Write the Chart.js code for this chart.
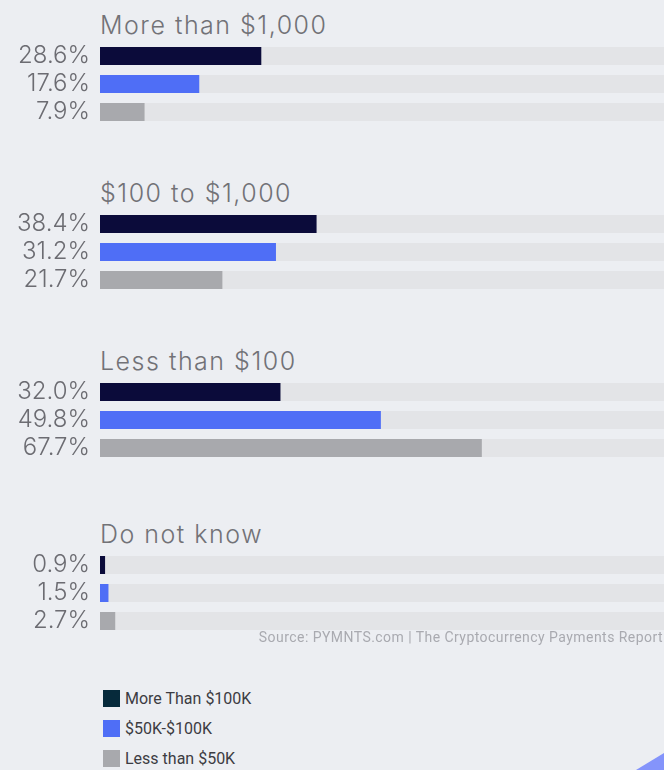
<!DOCTYPE html>
<html>
<head>
<meta charset="utf-8">
<script src="https://cdn.jsdelivr.net/npm/chart.js@4.4.1/dist/chart.umd.min.js"></script>
<style>
  html, body { margin: 0; padding: 0; }
  body {
    width: 664px; height: 770px; position: relative; overflow: hidden;
    background: #eceef2; font-family: Inter, "Noto Sans", sans-serif;
  }
  .group-title {
    position: absolute; left: 100px; height: 30px; line-height: 30px;
    font-size: 25px; font-weight: 300; letter-spacing: 1.5px; color: #727277; white-space: nowrap;
  }
  .chart-box { position: absolute; left: 0; width: 664px; height: 84px; }
  .chart-box canvas { display: block; }
  .source {
    position: absolute; right: 1px; top: 629px; font-family: Roboto, sans-serif;
    font-size: 14px; letter-spacing: 0.45px; color: #a9aab0; white-space: nowrap;
  }
  .legend { position: absolute; left: 103px; top: 690px; font-family: Roboto, sans-serif; }
  .legend-item { height: 30px; display: flex; align-items: flex-start; }
  .legend-item span.sw { width: 17px; height: 17px; margin-right: 5px; }
  .legend-item span.tx { font-size: 16px; line-height: 17px; color: #3c3c42; }
  .corner {
    position: absolute; right: 0; bottom: 0; width: 28px; height: 17px;
    background: #8494fb; clip-path: polygon(100% 0, 100% 100%, 0 100%);
  }
</style>
</head>
<body>
<div id="root"></div>
<div class="source">Source: PYMNTS.com | The Cryptocurrency Payments Report</div>
<div class="legend" id="legend"></div>
<div class="corner"></div>
<script>
// Spending categories (one block each) and income series
const categories = ["More than $1,000", "$100 to $1,000", "Less than $100", "Do not know"];
const seriesNames = ["More Than $100K", "$50K-$100K", "Less than $50K"];
const moreThan100K = [28.6, 38.4, 32.0, 0.9];
const from50to100K = [17.6, 31.2, 49.8, 1.5];
const lessThan50K = [7.9, 21.7, 67.7, 2.7];
const trackMax = 100;

const seriesValues = [moreThan100K, from50to100K, lessThan50K];
const barColors = ["#0b0b3a", "#4f6ef6", "#a8a9ad"];
const legendColors = ["#062a3b", "#4f6ef6", "#a8a9ad"];
const trackColor = "#e3e4e7";

// block positions on the page
const boxTops = [42, 210, 378, 551];
const titleOffset = 32;

const root = document.getElementById("root");

categories.forEach((cat, gi) => {
  const title = document.createElement("div");
  title.className = "group-title";
  title.style.top = (boxTops[gi] - titleOffset) + "px";
  title.textContent = cat;
  root.appendChild(title);

  const box = document.createElement("div");
  box.className = "chart-box";
  box.style.top = boxTops[gi] + "px";
  const canvas = document.createElement("canvas");
  canvas.width = 664;
  canvas.height = 84;
  box.appendChild(canvas);
  root.appendChild(box);

  const values = seriesValues.map(s => s[gi]);
  const labels = values.map(v => v.toFixed(1) + "%");

  new Chart(canvas.getContext("2d"), {
    type: "bar",
    data: {
      labels: labels,
      datasets: [
        {
          label: cat,
          data: values,
          backgroundColor: barColors,
          grouped: false,
          barPercentage: 18 / 28,
          categoryPercentage: 1
        },
        {
          label: "track",
          data: values.map(() => trackMax),
          backgroundColor: trackColor,
          grouped: false,
          barPercentage: 18 / 28,
          categoryPercentage: 1
        }
      ]
    },
    options: {
      indexAxis: "y",
      animation: false,
      responsive: false,
      layout: { padding: 0 },
      scales: {
        x: { min: 0, max: trackMax, display: false },
        y: {
          grid: { display: false, drawTicks: false },
          border: { display: false },
          ticks: {
            autoSkip: false,
            padding: 10,
            color: "#6c6c72",
            font: { family: "Inter", size: 24, weight: "300" }
          },
          afterFit: scale => {
            // fixed label column, no extra room above/below the rows
            scale.width = 100;
            scale.paddingTop = 0;
            scale.paddingBottom = 0;
          }
        }
      },
      plugins: { legend: { display: false }, tooltip: { enabled: false } }
    }
  });
});

// legend
const legend = document.getElementById("legend");
seriesNames.forEach((name, i) => {
  const item = document.createElement("div");
  item.className = "legend-item";
  item.innerHTML = '<span class="sw" style="background:' + legendColors[i] + '"></span><span class="tx"></span>';
  item.querySelector(".tx").textContent = name;
  legend.appendChild(item);
});
</script>
</body>
</html>
